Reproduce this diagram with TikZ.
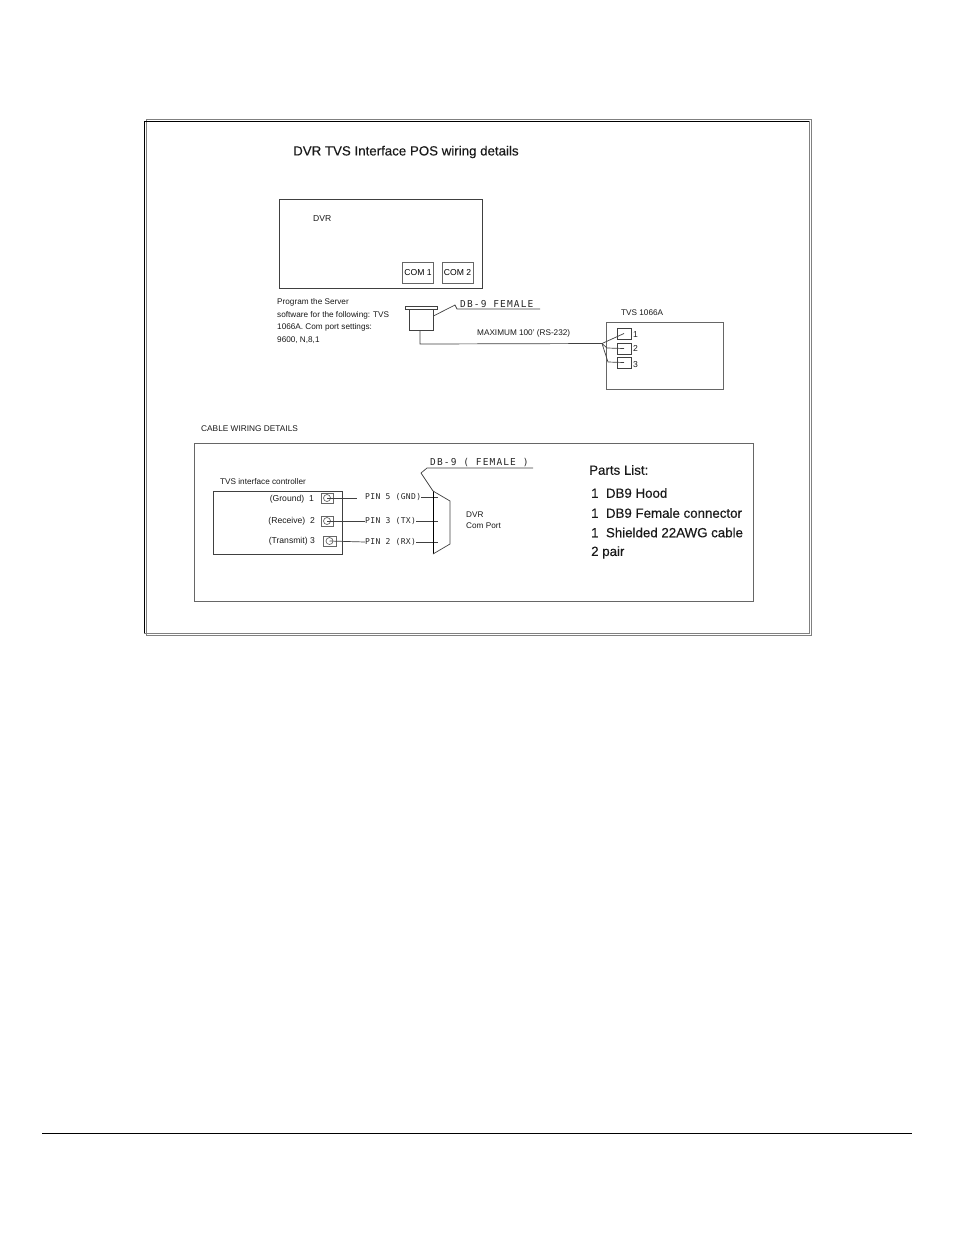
\documentclass[tikz,border=0pt]{standalone}
\usepackage{fontspec}
\setmainfont{Liberation Sans}
\newfontfamily\pinfont[LetterSpace=4.7]{DejaVu Sans Mono}
\newfontfamily\dbfont[LetterSpace=12]{DejaVu Sans Mono}
\newfontfamily\headfont[FakeBold=0.25]{Liberation Sans}
\usetikzlibrary{arrows}

\tikzset{
  box/.style={draw=black!75,line width=0.8pt},
  thinbox/.style={draw=black!60,line width=0.7pt},
  lab/.style={anchor=west,inner sep=0pt,text=black!90,font=\fontsize{8.6}{10}\selectfont},
  smalllab/.style={lab,font=\fontsize{8.2}{10}\selectfont},
  pin/.style={anchor=west,inner sep=0pt,text=black!85,font=\pinfont\fontsize{8}{9}\selectfont},
  dbpin/.style={anchor=west,inner sep=0pt,text=black!85,font=\dbfont\fontsize{9.5}{11}\selectfont},
  parts/.style={anchor=west,inner sep=0pt,text=black!90,font=\headfont\fontsize{13.3}{16}\selectfont},
  wire/.style={draw=black!75,line width=0.7pt}
}

\begin{document}
\begin{tikzpicture}[x=1pt,y=-1pt]
  \useasboundingbox (0,0) rectangle (954,1235);

  % frame
  \draw[black!50,line width=1pt] (146,119) rectangle (811.5,635);
  \draw[black!50,line width=1pt] (809,121) -- (809,633) -- (144,633);
  \draw[black,line width=1pt] (144,633) -- (144,121) -- (809,121);
  \node[parts] (title) at (293,152) {DVR TVS Interface POS wiring details};

  % dvr
  \node[box,minimum width=203pt,minimum height=89pt,inner sep=0pt] (dvr) at (380.5,243.5) {};
  \node[lab] (dvrlab) at (313,219) {DVR};
  \node[thinbox,minimum width=31pt,minimum height=21pt,inner sep=0pt,font=\fontsize{8.6}{10}\selectfont] (com1) at (418,273) {COM 1};
  \node[thinbox,minimum width=31pt,minimum height=21pt,inner sep=0pt,font=\fontsize{8.6}{10}\selectfont] (com2) at (457.5,273) {COM 2};
  \node[lab,align=left,font=\fontsize{8.2}{12.6}\selectfont] (prog) at (277,321) {Program the Server\\software for the following:  TVS\\1066A. Com port settings:\\9600, N,8,1};

  % plug
  \node[box,minimum width=32pt,minimum height=3pt,inner sep=0pt] (flange) at (421,307.5) {};
  \node[box,minimum width=24pt,minimum height=21pt,inner sep=0pt] (plug) at (421,319.5) {};
  \node[dbpin] (dbtop) at (460,304) {DB-9 FEMALE};
  \coordinate (dbA) at (455,305);
  \coordinate (dbB) at (457,309);
  \coordinate (dbC) at (540,309);
  \draw[wire] (plug.east |- 0,316) -- (dbA) -- (dbB) -- (dbC);
  \node[smalllab] (maxlab) at (477,333) {MAXIMUM 100' (RS-232)};

  % tvs
  \node[smalllab] (tvslab) at (621,313) {TVS 1066A};
  \node[thinbox,minimum width=117pt,minimum height=67pt,inner sep=0pt] (tvs) at (664.5,355.5) {};
  \node[box,minimum width=14pt,minimum height=11pt,inner sep=0pt] (t1) at (624,333.5) {};
  \node[box,minimum width=14pt,minimum height=11pt,inner sep=0pt] (t2) at (624,348.5) {};
  \node[box,minimum width=14pt,minimum height=11pt,inner sep=0pt] (t3) at (624,362.5) {};
  \node[lab] (n1) at (633,335) {1};
  \node[lab] (n2) at (633,348.5) {2};
  \node[lab] (n3) at (633,364.5) {3};
  \coordinate (split) at (602,343.5);
  \coordinate (bend) at (608,362);
  \draw[wire] (plug.south -| 420,0) -- (420,344) -- (split);
  \draw[wire] (split) -- (t1.center);
  \draw[wire] (split) -- (607,348) -- (t2.center);
  \draw[wire] (split) -- (bend) -- (t3.center);

  % cable details
  \node[smalllab,font=\fontsize{8.3}{10}\selectfont] (cablelab) at (201,429) {CABLE WIRING DETAILS};
  \node[thinbox,minimum width=559pt,minimum height=158pt,inner sep=0pt] (cable) at (473.5,522) {};
  \node[smalllab] (ctrllab) at (220,482) {TVS interface controller};
  \node[box,minimum width=129pt,minimum height=63pt,inner sep=0pt] (ctrl) at (277.5,522.5) {};
  \node[lab,anchor=east] (gnd) at (314,499) {(Ground)\ \ 1};
  \node[lab,anchor=east] (rcv) at (315,521) {(Receive)\ \ 2};
  \node[lab,anchor=east] (trm) at (315,541) {(Transmit) 3};
  \node[thinbox,minimum width=12pt,minimum height=10pt,inner sep=0pt] (s1) at (327,498) {};
  \node[thinbox,minimum width=12pt,minimum height=10pt,inner sep=0pt] (s2) at (327,521) {};
  \node[thinbox,minimum width=13pt,minimum height=10pt,inner sep=0pt] (s3) at (329.5,541) {};
  \node[circle,thinbox,minimum size=7pt,inner sep=0pt] (c1) at (327,498) {};
  \node[circle,thinbox,minimum size=7pt,inner sep=0pt] (c2) at (327,521) {};
  \node[circle,thinbox,minimum size=7pt,inner sep=0pt] (c3) at (329.5,541) {};
  \node[pin] (p5) at (365,497) {PIN 5 (GND)};
  \node[pin] (p3) at (365,521) {PIN 3 (TX)};
  \node[pin] (p2) at (365,542) {PIN 2 (RX)};
  \coordinate (w5) at (357,498);
  \coordinate (e5) at (438,497);
  \coordinate (e3) at (438,521);
  \coordinate (e2) at (438,542);
  \draw[wire] (c1.center) -- (w5);
  \draw[wire] (c2.center) -- (p3.west);
  \draw[wire] (c3.center) -- (p2.west);
  \draw[wire] (p5.east) -- (e5);
  \draw[wire] (p3.east) -- (e3);
  \draw[wire] (p2.east) -- (e2);

  % db9 shell
  \coordinate (sa) at (433,491);
  \coordinate (sb) at (450,501);
  \coordinate (sc) at (450,544);
  \coordinate (sd) at (433,554);
  \draw[black,line width=0.9pt] (sa) -- (sd);
  \draw[wire] (sa) -- (sb) -- (sc) -- (sd);
  \coordinate (la) at (421,473);
  \coordinate (lb) at (427,468);
  \coordinate (lc) at (533,468);
  \draw[wire] (sa) -- (la) -- (lb) -- (lc);
  \node[dbpin] (dbbot) at (430,462.5) {DB-9 ( FEMALE )};
  \node[smalllab,align=left,font=\fontsize{8.2}{11}\selectfont] (port) at (466,520) {DVR\\Com Port};

  % parts
  \node[parts] (pl) at (589,470) {Parts List:};
  \node[parts] (pa) at (591,493) {1\ \ DB9 Hood};
  \node[parts] (pb) at (591,513) {1\ \ DB9 Female connector};
  \node[parts] (pc) at (591,532.5) {1\ \ Shielded 22AWG cable};
  \node[parts] (pd) at (591,552.5) {2 pair};

  % footer
  \draw[black,line width=0.8pt] (42,1133) -- (912,1133);
\end{tikzpicture}
\end{document}
